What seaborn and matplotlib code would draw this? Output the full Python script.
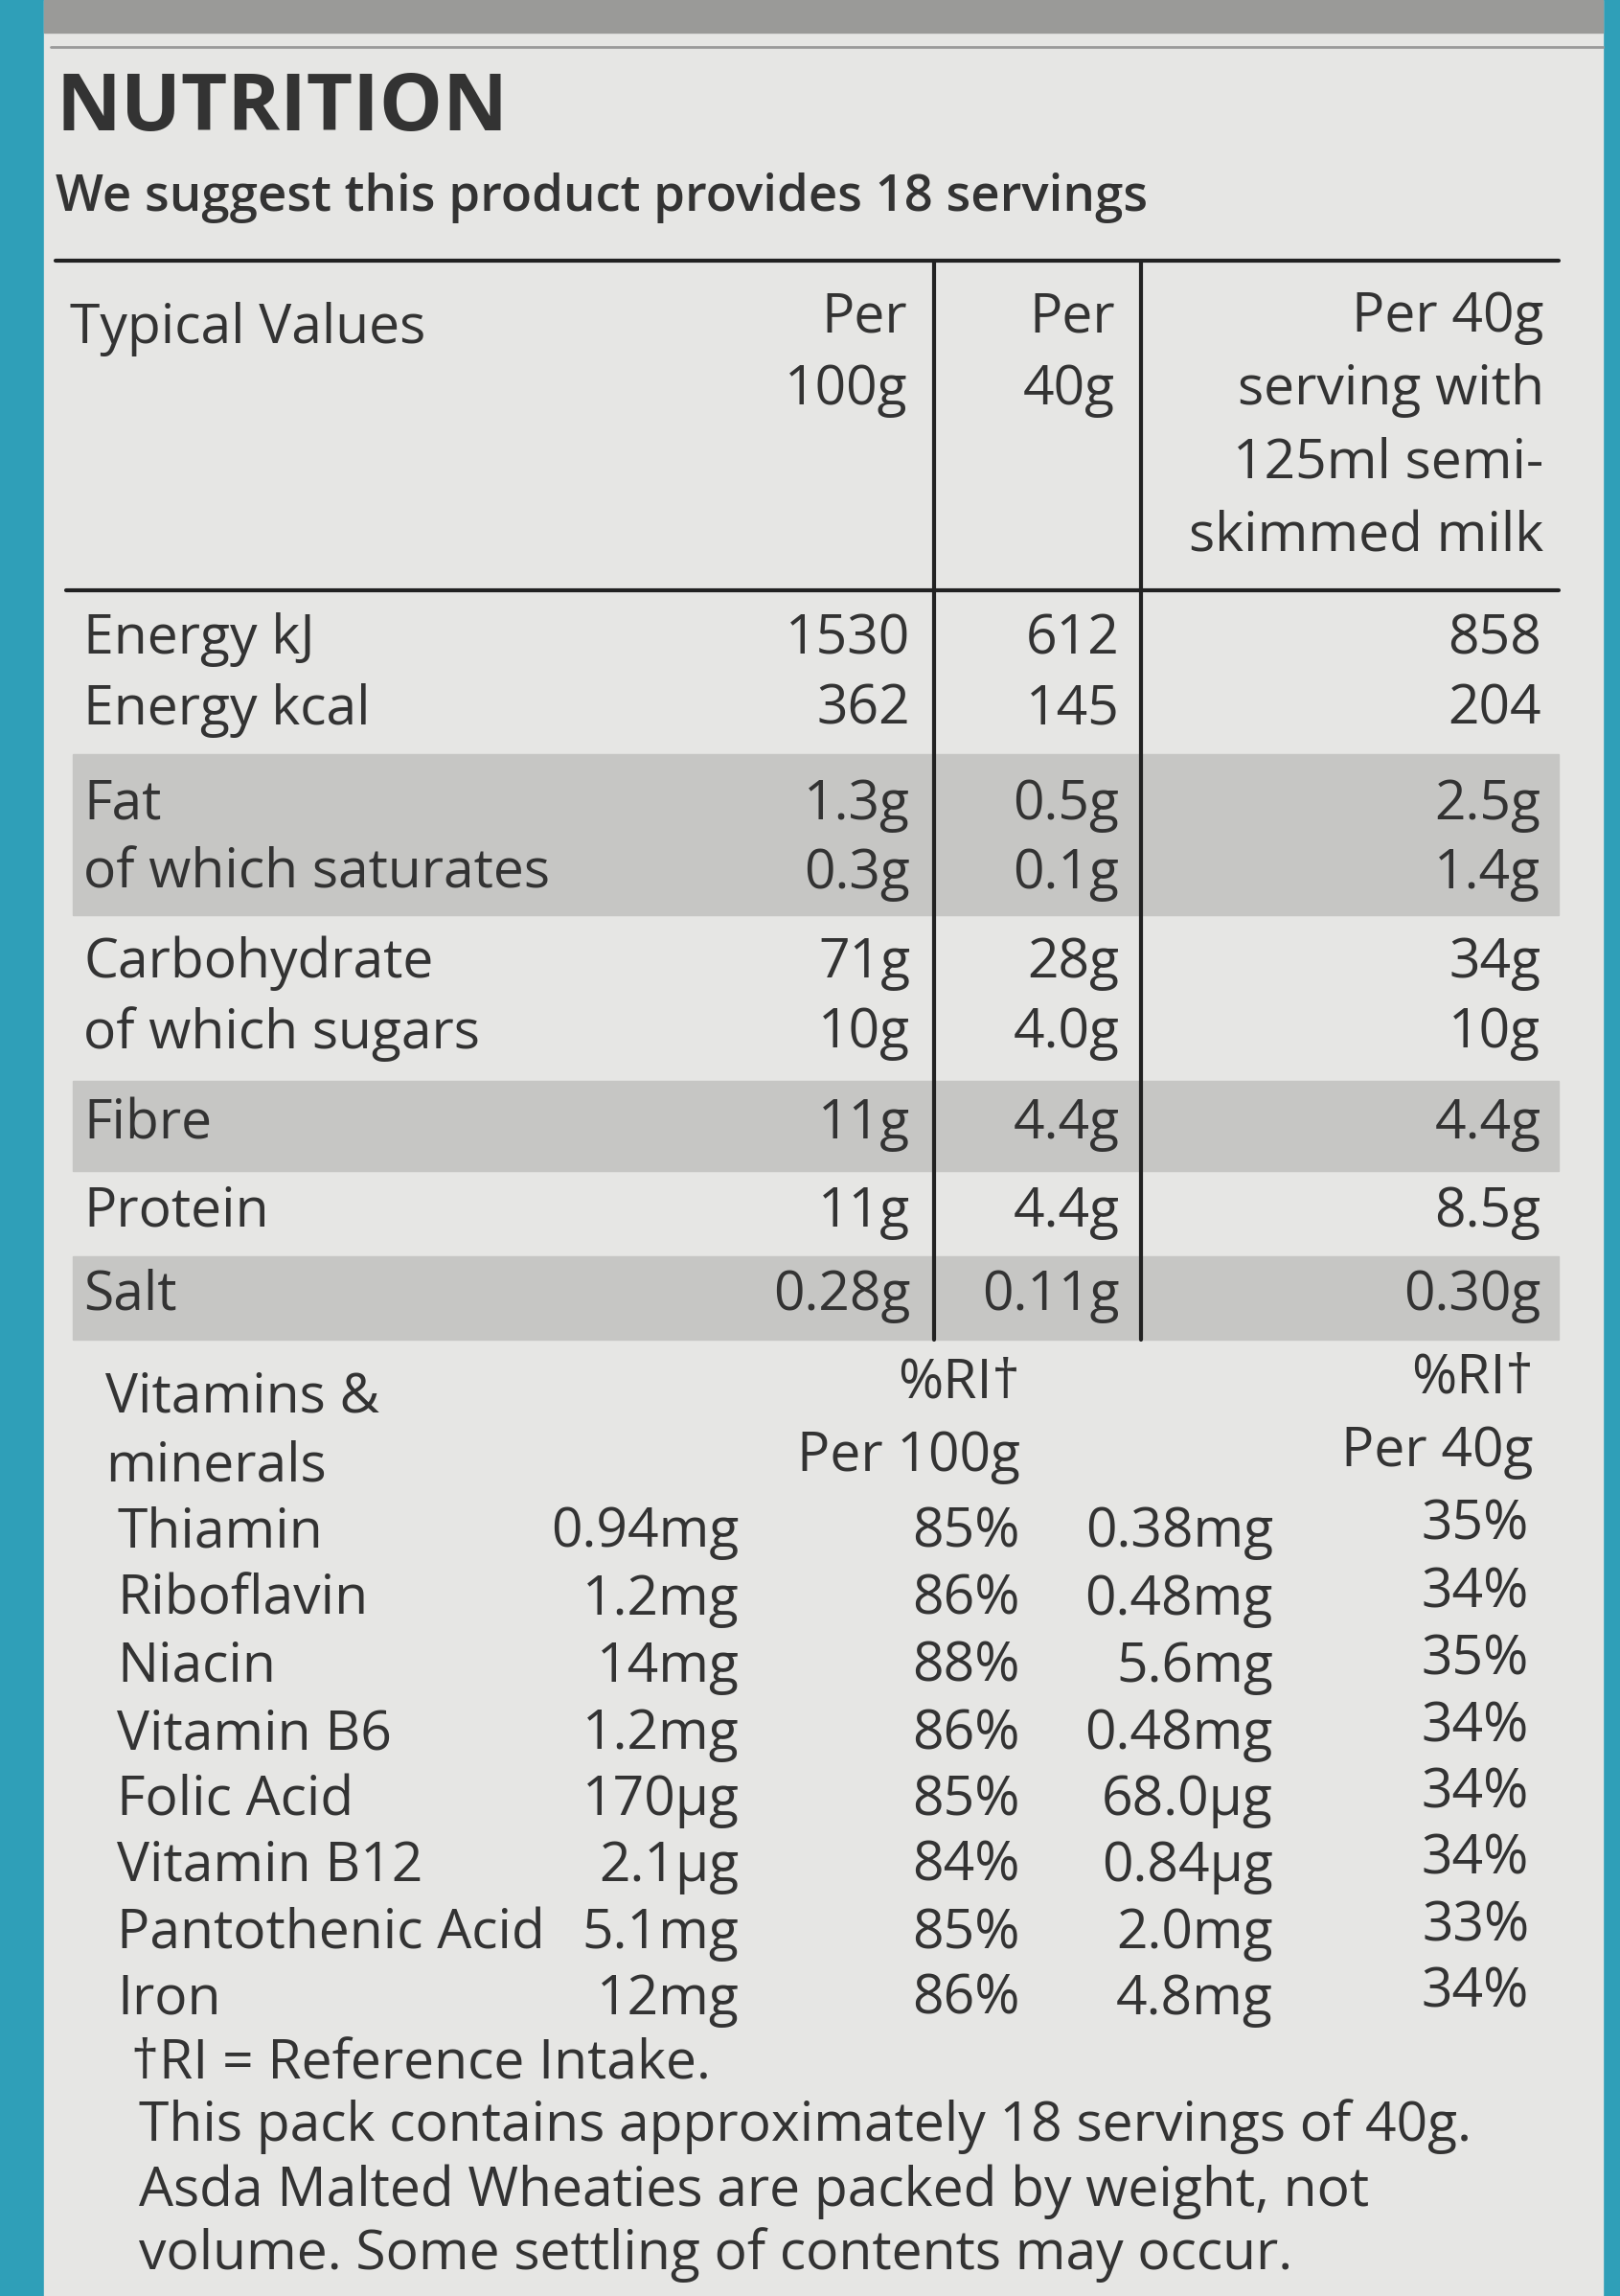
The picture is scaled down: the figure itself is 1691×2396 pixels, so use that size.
import matplotlib
matplotlib.use("Agg")
import matplotlib.pyplot as plt
import seaborn as sns

sns.set_theme(style="white", font="Open Sans")

# ── DATA ─────────────────────────────────────────────
title = "NUTRITION"
subtitle = "We suggest this product provides 18 servings"
header_cols = ["Per\n100g", "Per\n40g", "Per 40g\nserving with\n125ml semi-\nskimmed milk"]

nutrients = ["Energy kJ", "Energy kcal", "Fat", "of which saturates",
             "Carbohydrate", "of which sugars", "Fibre", "Protein", "Salt"]
per_100g = ["1530", "362", "1.3g", "0.3g", "71g", "10g", "11g", "11g", "0.28g"]
per_40g = ["612", "145", "0.5g", "0.1g", "28g", "4.0g", "4.4g", "4.4g", "0.11g"]
per_40g_milk = ["858", "204", "2.5g", "1.4g", "34g", "10g", "4.4g", "8.5g", "0.30g"]

vitamins = ["Thiamin", "Riboflavin", "Niacin", "Vitamin B6", "Folic Acid",
            "Vitamin B12", "Pantothenic Acid", "Iron"]
vit_100g = ["0.94mg", "1.2mg", "14mg", "1.2mg", "170µg", "2.1µg", "5.1mg", "12mg"]
vit_ri_100g = ["85%", "86%", "88%", "86%", "85%", "84%", "85%", "86%"]
vit_40g = ["0.38mg", "0.48mg", "5.6mg", "0.48mg", "68.0µg", "0.84µg", "2.0mg", "4.8mg"]
vit_ri_40g = ["35%", "34%", "35%", "34%", "34%", "34%", "33%", "34%"]

footnotes = ["†RI = Reference Intake.",
             "This pack contains approximately 18 servings of 40g.",
             "Asda Malted Wheaties are packed by weight, not",
             "volume. Some settling of contents may occur."]

# ── LAYOUT ───────────────────────────────────────────
ink = "#333333"
paper = "#e6e6e4"
shade = "#c6c6c4"
teal = "#2f9fb8"

fig = plt.figure(figsize=(16.91, 23.96), dpi=100)
fig.patch.set_facecolor(teal)
ax = fig.add_axes([0, 0, 1, 1])
ax.set_xlim(0, 1107)
ax.set_ylim(1568, 0)
ax.axis("off")

ax.add_patch(plt.Rectangle((30, 0), 1065, 1568, color=paper, zorder=0))
ax.add_patch(plt.Rectangle((30, 0), 1065, 22, color="#9a9a98", zorder=0))
ax.plot([35, 1095], [32, 32], color="#999999", lw=2)

fs = 41
ax.text(38, 75, title, fontsize=60, fontweight="bold", color=ink, va="center")
ax.text(38, 135, subtitle, fontsize=38, fontweight="semibold", color=ink, va="center")

# shaded rows
for y0, y1 in [(515, 625), (738, 800), (858, 915)]:
    ax.add_patch(plt.Rectangle((50, y0), 1015, y1 - y0, color=shade, zorder=0.5))

ax.plot([38, 1065], [178, 178], color="#222222", lw=3)
ax.plot([45, 1065], [403, 403], color="#222222", lw=3)
for x in [638, 780]:
    ax.plot([x, x], [178, 915], color="#222222", lw=3)

ax.text(48, 225, "Typical Values", fontsize=fs, color=ink, va="center")
col_right = [620, 762, 1055]
for x, lab in zip(col_right, header_cols):
    for i, line in enumerate(lab.split("\n")):
        ax.text(x, 217 + i * 50, line, fontsize=fs, color=ink, va="center", ha="right")

row_y = [437, 485, 550, 597, 658, 706, 768, 828, 885]
for y, n, a, b, c in zip(row_y, nutrients, per_100g, per_40g, per_40g_milk):
    ax.text(57, y, n, fontsize=fs, color=ink, va="center")
    ax.text(622, y, a, fontsize=fs, color=ink, va="center", ha="right")
    ax.text(765, y, b, fontsize=fs, color=ink, va="center", ha="right")
    ax.text(1053, y, c, fontsize=fs, color=ink, va="center", ha="right")

# vitamins block
ax.text(72, 955, "Vitamins &", fontsize=fs, color=ink, va="center")
ax.text(72, 1002, "minerals", fontsize=fs, color=ink, va="center")
ax.text(697, 945, "%RI†", fontsize=fs, color=ink, va="center", ha="right")
ax.text(697, 995, "Per 100g", fontsize=fs, color=ink, va="center", ha="right")
ax.text(1048, 942, "%RI†", fontsize=fs, color=ink, va="center", ha="right")
ax.text(1048, 992, "Per 40g", fontsize=fs, color=ink, va="center", ha="right")

vit_y = [1047, 1093, 1139, 1185, 1230, 1275, 1321, 1366]
for y, n, a, b, c, d in zip(vit_y, vitamins, vit_100g, vit_ri_100g, vit_40g, vit_ri_40g):
    ax.text(80, y, n, fontsize=fs, color=ink, va="center")
    ax.text(505, y, a, fontsize=fs, color=ink, va="center", ha="right")
    ax.text(697, y, b, fontsize=fs, color=ink, va="center", ha="right")
    ax.text(870, y, c, fontsize=fs, color=ink, va="center", ha="right")
    ax.text(1045, y - 5, d, fontsize=fs, color=ink, va="center", ha="right")

foot_y = [1410, 1452, 1497, 1540]
foot_x = [90, 95, 95, 95]
for x, y, t in zip(foot_x, foot_y, footnotes):
    ax.text(x, y, t, fontsize=fs, color=ink, va="center")

fig.savefig("out.png", dpi=100, facecolor=fig.get_facecolor())
